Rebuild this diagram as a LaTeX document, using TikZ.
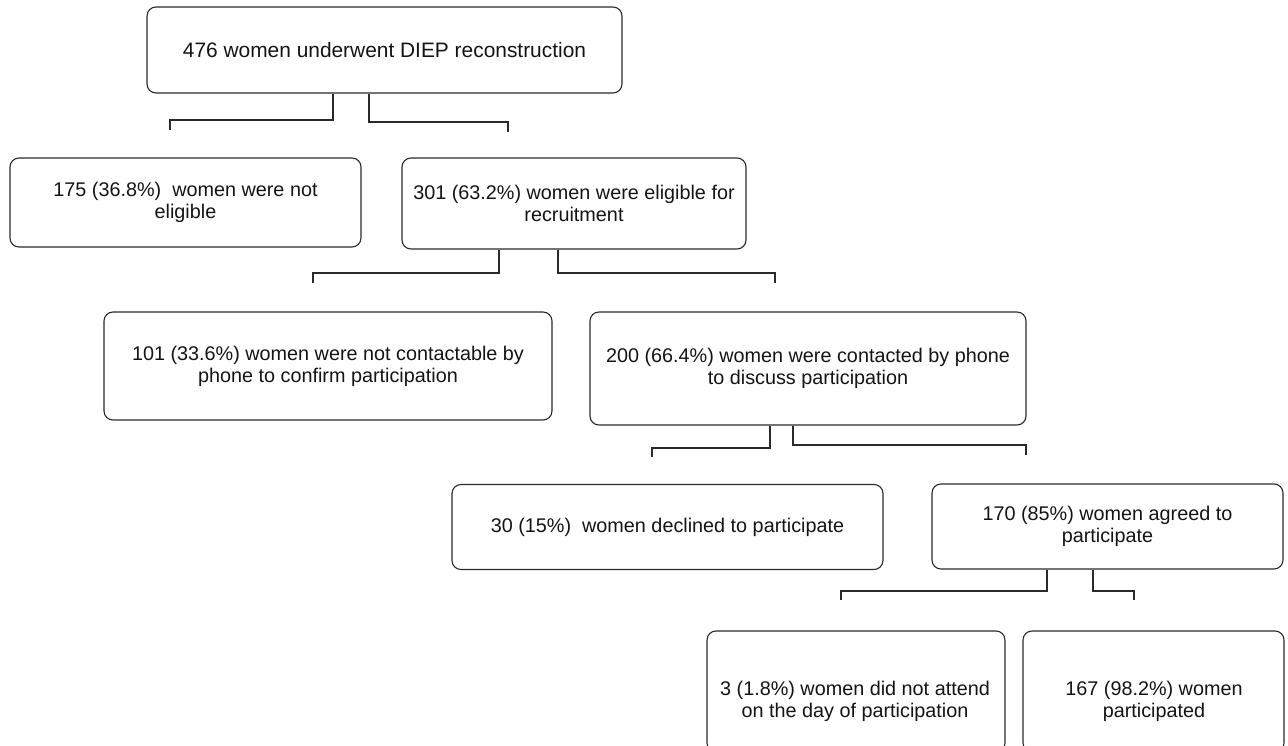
\documentclass[tikz,border=0pt]{standalone}
\usepackage{fontspec}
\setmainfont{Liberation Sans}
\definecolor{linec}{HTML}{2A2A2A}
\definecolor{txtc}{HTML}{141414}
\begin{document}
\begin{tikzpicture}[x=1pt,y=-1pt,
  box/.style={draw=linec, line width=1.1pt, rounded corners=9pt, align=center,
    inner sep=0pt, text=txtc, font=\fontsize{19.8}{22}\selectfont},
  lbl/.style={align=center, inner sep=0pt, text=txtc, font=\fontsize{19.8}{22}\selectfont},
  conn/.style={draw=linec, line width=1.1pt}]
\useasboundingbox (0,0) rectangle (1288,746);

% boxes
\node[box, minimum width=475pt, minimum height=86pt, font=\fontsize{20.9}{23}\selectfont] (b1) at (384.5,50) {476 women underwent DIEP reconstruction};
\node[box, minimum width=351pt, minimum height=89pt] (b2) at (185.5,202.5) {175 (36.8\%)\ \ women were not\\eligible};
\node[box, minimum width=344pt, minimum height=91pt] (b3) at (574,203.5) {301 (63.2\%) women were eligible for\\recruitment};
\node[box, minimum width=448pt, minimum height=108pt] (b4) at (328,366) {101 (33.6\%) women were not contactable by\\phone to confirm participation};
\node[box, minimum width=436pt, minimum height=113pt] (b5) at (808,368.5) {200 (66.4\%) women were contacted by phone\\to discuss participation};
\node[box, minimum width=431pt, minimum height=85pt] (b6) at (667.5,527) {30 (15\%)\ \ women declined to participate};
\node[box, minimum width=351pt, minimum height=85pt] (b7) at (1107.5,526.5) {170 (85\%) women agreed to\\participate};
\node[box, minimum width=298pt, minimum height=121pt] (b8) at (856,691.5) {};
\node[box, minimum width=261pt, minimum height=121pt] (b9) at (1153.5,691.5) {};
\node[lbl] (t8) at (855,701) {3 (1.8\%) women did not attend\\on the day of participation};
\node[lbl] (t9) at (1154,701) {167 (98.2\%) women\\participated};

% connector corner / end coordinates
\coordinate (k1l) at (170,120); \coordinate (e1l) at (170,130);
\coordinate (k1r) at (508,122); \coordinate (e1r) at (508,132);
\coordinate (k2l) at (313,273); \coordinate (e2l) at (313,283);
\coordinate (k2r) at (775,273); \coordinate (e2r) at (775,283);
\coordinate (k3l) at (652,448); \coordinate (e3l) at (652,457);
\coordinate (k3r) at (1026,445); \coordinate (e3r) at (1026,455);
\coordinate (k4l) at (841,591); \coordinate (e4l) at (841,600);
\coordinate (k4r) at (1134,591); \coordinate (e4r) at (1134,600);

% connectors
\draw[conn] ([xshift=-51.5pt]b1.south) |- (k1l) -- (e1l);
\draw[conn] ([xshift=-15.5pt]b1.south) |- (k1r) -- (e1r);
\draw[conn] ([xshift=-75pt]b3.south) |- (k2l) -- (e2l);
\draw[conn] ([xshift=-16pt]b3.south) |- (k2r) -- (e2r);
\draw[conn] ([xshift=-38pt]b5.south) |- (k3l) -- (e3l);
\draw[conn] ([xshift=-15pt]b5.south) |- (k3r) -- (e3r);
\draw[conn] ([xshift=-60.5pt]b7.south) |- (k4l) -- (e4l);
\draw[conn] ([xshift=-14.5pt]b7.south) |- (k4r) -- (e4r);
\end{tikzpicture}
\end{document}
